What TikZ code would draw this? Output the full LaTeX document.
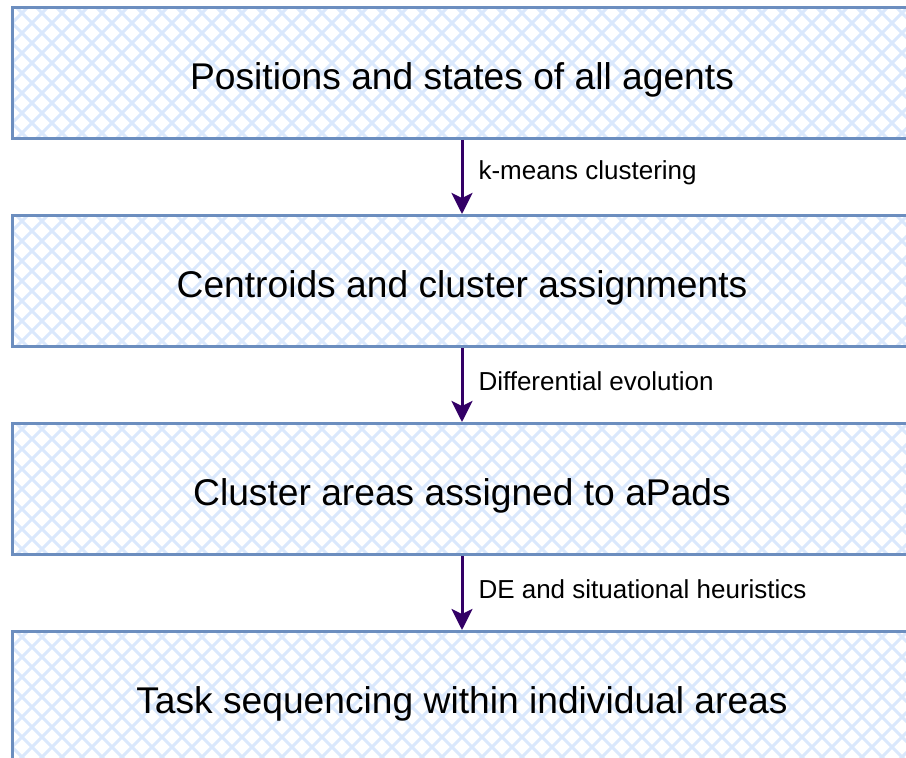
\documentclass[tikz,border=0pt]{standalone}
\usepackage{fontspec}
\setmainfont{Liberation Sans}
\usetikzlibrary{arrows.meta, positioning}
\definecolor{stageborder}{RGB}{108,142,191}
\definecolor{stagehatch}{RGB}{218,232,252}
\definecolor{flowpurple}{RGB}{51,0,102}
\tikzset{
  hatchline/.style={
    draw=stagehatch, line width=3pt
  },
  stagebox/.style={
    draw=stageborder, line width=3pt,
    minimum width=900pt, minimum height=131pt,
    inner sep=0pt, align=center,
    text height=33pt, text depth=0pt,
    font=\fontsize{37.2}{44}\selectfont,
    path picture={
      \foreach \d in {-540,-520,...,540}{
        \draw[hatchline] ([xshift=\d pt]path picture bounding box.center)
          ++(-80pt,-80pt) -- ++(160pt,160pt);
        \draw[hatchline] ([xshift=\d pt]path picture bounding box.center)
          ++(-80pt,80pt) -- ++(160pt,-160pt);
      }
    }
  },
  flowarrow/.style={
    -{Stealth[length=21pt,width=21pt,inset=5pt]},
    draw=flowpurple, line width=3pt
  },
  flowlabel/.style={
    font=\fontsize{26}{30}\selectfont,
    inner sep=0pt, right=15pt, yshift=4pt
  },
}

\begin{document}
\begin{tikzpicture}[x=1pt, y=-1pt, node distance=74pt]

  \clip (0,0) rectangle (906,758);

  %% Stages
  \node[stagebox] (agents) at (462,73)
    {Positions and states of all agents};
  \node[stagebox, below=of agents] (centroids)
    {Centroids and cluster assignments};
  \node[stagebox, below=of centroids] (areas)
    {Cluster areas assigned to aPads};
  \node[stagebox, below=of areas] (tasks)
    {Task sequencing within individual areas};

  %% Arrows between stages
  \draw[flowarrow] (agents.south) --
    node[flowlabel] {k-means clustering} (centroids.north);
  \draw[flowarrow] (centroids.south) --
    node[flowlabel] {Differential evolution} (areas.north);
  \draw[flowarrow] (areas.south) --
    node[flowlabel] {DE and situational heuristics} (tasks.north);

\end{tikzpicture}
\end{document}
